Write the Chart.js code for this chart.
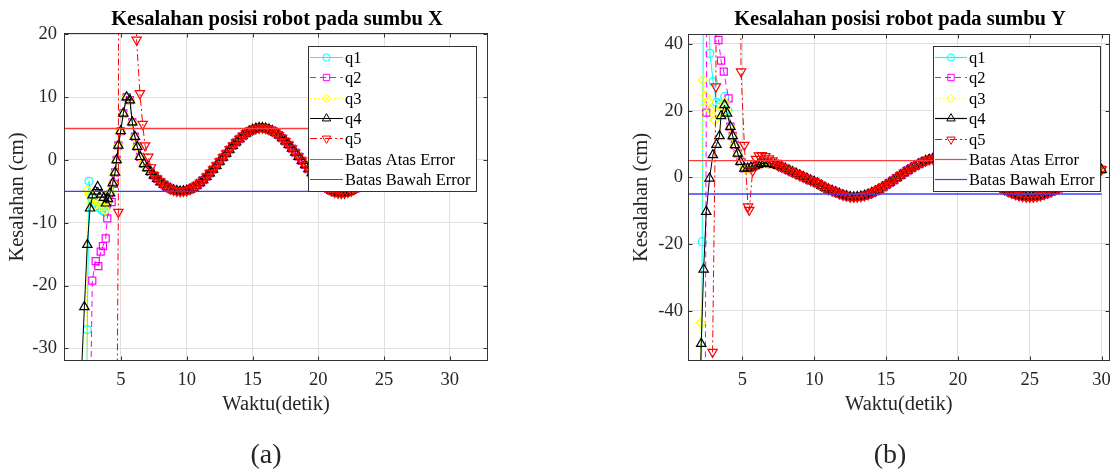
<!DOCTYPE html>
<html><head><meta charset="utf-8">
<script src="https://cdn.jsdelivr.net/npm/chart.js@4.4.0/dist/chart.umd.min.js"></script>
<style>
html,body{margin:0;padding:0;background:#fff;}
#wrap{position:relative;width:1119px;height:473px;overflow:hidden;background:#fff;}
canvas{position:absolute;top:0;}
</style></head><body>
<div id="wrap">
<canvas id="cA" width="560" height="473" style="left:0"></canvas>
<canvas id="cB" width="559" height="473" style="left:560px"></canvas>
</div>
<script>
// ---------- labels ----------
const seriesNames = ['q1','q2','q3','q4','q5'];
const limitNames = ['Batas Atas Error','Batas Bawah Error'];
const limitValues = [5, -5];
const limitT = [0, 30];
const titleA = 'Kesalahan posisi robot pada sumbu X';
const titleB = 'Kesalahan posisi robot pada sumbu Y';
const xLabel = 'Waktu(detik)';
const yLabel = 'Kesalahan (cm)';

// ---------- chart (a) : sumbu X ----------
const xTicksA = [5,10,15,20,25,30];
const yTicksA = [-30,-20,-10,0,10,20];
const q1tA = [2.3,2.44,2.57,2.75,2.95,3.15,3.35,3.55,3.75,3.95,4.15];
const q1vA = [-60,-27.0,-3.4,-6.0,-6.8,-7.3,-7.6,-8.0,-8.3,-7.0,-5.5];
const q2tA = [2.55,2.82,3.08,3.28,3.46,3.63,3.84,3.96,4.29,4.47];
const q2vA = [-60,-19.2,-16.1,-16.9,-14.6,-13.7,-12.5,-9.3,-6.7,-3.8];
const q3tA = [2.25,2.44,2.62,2.8,3.0,3.2,3.4,3.6,3.8,4.0,4.2];
const q3vA = [-60,-4.8,-5.5,-6.8,-7.2,-6.4,-6.9,-7.5,-8.0,-6.5,-5.0];
const q4tA = [1.76,2.22,2.44,2.65,2.85,3.05,3.23,3.5,3.7,3.86,4.02,4.17,4.37,4.55,4.67,4.8,4.98,5.18,5.43,5.68,5.86,6.06,6.24,6.45];
const q4vA = [-45,-23.4,-13.5,-7.7,-5.6,-5.0,-4.3,-5.5,-6.0,-6.9,-6.2,-5.3,-3.7,-2.0,0.0,2.3,4.6,7.4,10.0,9.5,6.0,3.7,2.1,0.5];
const q5tA = [4.55,4.8,4.98,6.1,6.19,6.44,6.65,6.83,7.08,7.28];
const q5vA = [-90,-8.3,300,150,19.1,10.6,5.7,2.3,0.5,-1.2];
const tailtA = [6.75,7,7.25,7.5,7.75,8,8.25,8.5,8.75,9,9.25,9.5,9.75,10,10.25,10.5,10.75,11,11.25,11.5,11.75,12,12.25,12.5,12.75,13,13.25,13.5,13.75,14,14.25,14.5,14.75,15,15.25,15.5,15.75,16,16.25,16.5,16.75,17,17.25,17.5,17.75,18,18.25,18.5,18.75,19,19.25,19.5,19.75,20,20.25,20.5,20.75,21,21.25,21.5,21.75,22,22.25,22.5,22.75,23,23.25,23.5,23.75,24,24.25,24.5,24.75,25,25.25,25.5,25.75,26,26.25,26.5,26.75,27,27.25,27.5,27.75,28,28.25,28.5,28.75,29,29.25,29.5,29.75,30];
const tailvA = [-0.64,-1.27,-1.88,-2.46,-3.00,-3.49,-3.92,-4.29,-4.58,-4.80,
 -4.94,-5.00,-4.97,-4.87,-4.68,-4.41,-4.08,-3.67,-3.20,-2.68,
 -2.12,-1.52,-0.90,-0.26,0.39,1.02,1.65,2.25,2.81,3.33,
 3.80,4.21,4.55,4.81,4.99,5.09,5.10,5.02,4.87,4.63,
 4.32,3.93,3.48,2.97,2.41,1.81,1.18,0.53,-0.13,-0.80,
 -1.45,-2.09,-2.69,-3.25,-3.76,-4.21,-4.59,-4.89,-5.11,-5.25,
 -5.30,-5.26,-5.13,-4.91,-4.61,-4.24,-3.79,-3.29,-2.73,-2.12,
 -1.48,-0.82,-0.14,0.54,1.21,1.87,2.48,3.05,3.58,4.05,
 4.45,4.78,5.03,5.19,5.27,5.26,5.17,4.99,4.72,4.38,
 3.97,3.49,2.95,2.36];

// ---------- chart (b) : sumbu Y ----------
const xTicksB = [5,10,15,20,25,30];
const yTicksB = [-40,-20,0,20,40];
const q1tB = [2.12,2.21,2.4,2.74,2.97,3.2,3.45,3.78,4.0];
const q1vB = [-90,-19.3,150,37.2,28.7,22.5,22.0,24.2,20.0];
const q2tB = [2.4,2.49,2.65,3.2,3.34,3.52,3.71,4.04];
const q2vB = [-90,19.4,150,150,41.2,35,31.7,23.7];
const q3tB = [2.0,2.12,2.26,2.45,2.65,2.79,3.07,3.3,3.55,3.76,3.94];
const q3vB = [-90,-43.7,29.2,24.5,22.7,20.2,17.2,19.5,21.0,22.5,19.5];
const q4tB = [1.85,2.14,2.31,2.49,2.72,2.95,3.2,3.41,3.52,3.76,3.94,4.17,4.33,4.49,4.68,4.87,5.14,5.37,5.6,5.85,6.1,6.3];
const q4vB = [-95,-49.9,-27.6,-10.3,-0.3,6.7,9.8,12.4,18.4,21.7,19.2,15.2,12.4,9.7,7.2,4.7,2.7,2.7,3.0,3.4,3.8,4.1];
const q5tB = [2.7,2.93,3.16,3.3,4.75,4.91,5.14,5.4,5.48,5.72,5.95,6.15,6.35,6.6,6.85,7.1,7.35];
const q5vB = [-120,-52.4,27.2,200,200,31.7,9.7,-8.8,-9.8,2.0,5.5,6.5,6.6,6.3,5.6,5.0,4.3];
const tailtB = [6.5,6.75,7,7.25,7.5,7.75,8,8.25,8.5,8.75,9,9.25,9.5,9.75,10,10.25,10.5,10.75,11,11.25,11.5,11.75,12,12.25,12.5,12.75,13,13.25,13.5,13.75,14,14.25,14.5,14.75,15,15.25,15.5,15.75,16,16.25,16.5,16.75,17,17.25,17.5,17.75,18,18.25,18.5,18.75,19,19.25,19.5,19.75,20,20.25,20.5,20.75,21,21.25,21.5,21.75,22,22.25,22.5,22.75,23,23.25,23.5,23.75,24,24.25,24.5,24.75,25,25.25,25.5,25.75,26,26.25,26.5,26.75,27,27.25,27.5,27.75,28,28.25,28.5,28.75,29,29.25,29.5,29.75,30];
const tailvB = [4.2,4.15,4.0,3.8,3.5,3.1,2.6,2.1,1.6,1.1,
 0.6,0.1,-0.4,-0.9,-1.3,-1.8,-2.5,-3.1,-3.6,-4.0,
 -4.4,-4.9,-5.3,-5.6,-5.85,-5.95,-5.85,-5.7,-5.45,-5.15,
 -4.67,-4.17,-3.61,-2.99,-2.32,-1.63,-0.89,-0.15,0.6,1.34,
 2.05,2.73,3.37,3.96,4.48,4.93,5.30,5.58,5.78,5.88,
 5.89,5.8,5.6,5.3,4.95,4.5,3.95,3.35,2.7,2.0,
 1.3,0.55,-0.2,-0.95,-1.7,-2.4,-3.05,-3.65,-4.2,-4.7,
 -5.1,-5.45,-5.7,-5.85,-5.9,-5.85,-5.7,-5.45,-5.1,-4.7,
 -4.25,-3.8,-3.3,-2.8,-2.25,-1.7,-1.15,-0.6,-0.05,0.45,
 0.95,1.4,1.8,2.1,2.3];

// ---------- helpers ----------
const FONT = '"Liberation Serif", "Times New Roman", serif';
function pts(t, v) { return t.map((x, i) => ({x: x, y: v[i]})); }
function chain() {
  let out = [];
  for (const p of arguments) {
    const last = out.length ? out[out.length - 1].x : -Infinity;
    out = out.concat(p.filter(d => d.x > last));
  }
  return out;
}
const styles = [
  {color:'#00ffff', dash:[], pointStyle:'circle', radius:4, rotation:0},
  {color:'#ff00ff', dash:[6,4], pointStyle:'rect', radius:5, rotation:0},
  {color:'#ffff00', dash:[1.5,2.5], pointStyle:'rectRot', radius:4.6, rotation:0},
  {color:'#000000', dash:[], pointStyle:'triangle', radius:5.4, rotation:0},
  {color:'#ff0000', dash:[7,3,2,3], pointStyle:'triangle', radius:5.4, rotation:180}
];
const limitStyles = [{color:'#ff3c3c'}, {color:'#3c3cff'}];

function mkSeries(i, data) {
  const st = styles[i];
  return {label: seriesNames[i], data: data, borderColor: st.color, backgroundColor:'rgba(0,0,0,0)',
    borderWidth: 1, borderDash: st.dash, pointStyle: st.pointStyle, pointRadius: st.radius,
    pointRotation: st.rotation, pointBorderColor: st.color, pointBackgroundColor:'rgba(0,0,0,0)',
    pointBorderWidth: 1.2, tension: 0, fill: false, order: 6 - i, clip: 0,
    legendStyle: st};
}
function mkLimit(j) {
  return {label: limitNames[j], data: limitT.map(t => ({x: t, y: limitValues[j]})),
    borderColor: limitStyles[j].color, borderWidth: 1.3, pointRadius: 0, tension: 0, fill: false,
    order: j, clip: 0, legendStyle: {color: limitStyles[j].color, dash: [], pointStyle: false}};
}

const framePlugin = {
  id: 'frame',
  afterDatasetsDraw(chart) {
    const {ctx, chartArea: a, scales} = chart;
    ctx.save();
    ctx.setLineDash([]);
    ctx.strokeStyle = '#333';
    ctx.lineWidth = 1;
    const L = Math.round(a.left) + 0.5, R = Math.round(a.right) - 0.5;
    const T = Math.round(a.top) + 0.5, B = Math.round(a.bottom) - 0.5;
    ctx.strokeRect(L, T, R - L, B - T);
    ctx.beginPath();
    scales.x.ticks.forEach(t => {
      const p = Math.round(scales.x.getPixelForValue(t.value)) + 0.5;
      ctx.moveTo(p, B); ctx.lineTo(p, B - 4);
      ctx.moveTo(p, T); ctx.lineTo(p, T + 4);
    });
    scales.y.ticks.forEach(t => {
      const p = Math.round(scales.y.getPixelForValue(t.value)) + 0.5;
      ctx.moveTo(L, p); ctx.lineTo(L + 4, p);
      ctx.moveTo(R, p); ctx.lineTo(R - 4, p);
    });
    ctx.stroke();
    ctx.restore();
  }
};

const boxLegendPlugin = {
  id: 'boxLegend',
  afterDraw(chart, args, o) {
    const ctx = chart.ctx;
    ctx.save();
    ctx.setLineDash([]);
    ctx.fillStyle = '#fff';
    ctx.fillRect(o.x, o.y, o.w, o.h);
    ctx.strokeStyle = '#333';
    ctx.lineWidth = 1;
    ctx.strokeRect(o.x + 0.5, o.y + 0.5, o.w, o.h);
    const items = chart.data.datasets.map(d => ({label: d.label, st: d.legendStyle}));
    ctx.font = '16.5px ' + FONT;
    ctx.textBaseline = 'middle';
    ctx.textAlign = 'left';
    items.forEach((it, i) => {
      const y = Math.round(o.y + o.rowTop + i * o.rowH) + 0.5;
      const x0 = o.x + 2, x1 = o.x + o.sampleW;
      ctx.strokeStyle = it.st.color;
      ctx.lineWidth = 1.2;
      ctx.setLineDash(it.st.dash || []);
      ctx.beginPath(); ctx.moveTo(x0, y); ctx.lineTo(x1, y); ctx.stroke();
      ctx.setLineDash([]);
      if (it.st.pointStyle) {
        ctx.fillStyle = 'rgba(0,0,0,0)';
        ctx.lineWidth = 1;
        Chart.helpers.drawPoint(ctx, {pointStyle: it.st.pointStyle, rotation: it.st.rotation,
          radius: it.st.radius * 0.9, borderWidth: 1}, (x0 + x1) / 2, y);
      }
      ctx.fillStyle = '#000';
      ctx.fillText(it.label, o.x + o.textX, y + 1);
    });
    ctx.restore();
  }
};

const textPlugin = {
  id: 'texts',
  afterDraw(chart, args, o) {
    const ctx = chart.ctx;
    ctx.save();
    ctx.fillStyle = '#000';
    ctx.textAlign = 'center';
    ctx.textBaseline = 'alphabetic';
    ctx.font = 'bold 20.5px ' + FONT;
    ctx.fillText(o.title, o.titleX, o.titleY);
    ctx.fillStyle = '#262626';
    ctx.font = '28px ' + FONT;
    ctx.fillText(o.sub, o.subX, o.subY);
    ctx.restore();
  }
};

function makeChart(id, cfg) {
  const datasets = cfg.series.map((d, i) => mkSeries(i, d)).concat([mkLimit(0), mkLimit(1)]);
  return new Chart(document.getElementById(id), {
    type: 'line',
    data: {datasets: datasets},
    plugins: [framePlugin, boxLegendPlugin, textPlugin],
    options: {
      responsive: false, animation: false, devicePixelRatio: 1,
      layout: {padding: cfg.pad},
      plugins: {
        legend: {display: false}, tooltip: {enabled: false}, title: {display: false},
        boxLegend: cfg.legend,
        texts: cfg.texts
      },
      scales: {
        x: {
          type: 'linear', min: cfg.xMin, max: cfg.xMax,
          afterBuildTicks: s => { s.ticks = cfg.xTicks.map(v => ({value: v})); },
          afterFit: s => { s.height = cfg.xH; },
          grid: {color: '#dfdfdf', drawTicks: false, lineWidth: 1},
          border: {display: false},
          ticks: {color: '#262626', font: {family: FONT, size: 18.5}, padding: cfg.xTickPad, maxRotation: 0, autoSkip: false},
          title: {display: true, text: xLabel, color: '#262626', font: {family: FONT, size: 20.5}, padding: {top: 0, bottom: cfg.xTitlePad}}
        },
        y: {
          type: 'linear', min: cfg.yMin, max: cfg.yMax,
          afterBuildTicks: s => { s.ticks = cfg.yTicks.map(v => ({value: v})); },
          afterFit: s => { s.width = cfg.yW; },
          grid: {color: '#dfdfdf', drawTicks: false, lineWidth: 1},
          border: {display: false},
          ticks: {color: '#262626', font: {family: FONT, size: 18.5}, padding: cfg.yTickPad, autoSkip: false},
          title: {display: true, text: yLabel, color: '#262626', font: {family: FONT, size: 20.5}, padding: {top: cfg.yTitlePad, bottom: 0}}
        }
      }
    }
  });
}

const tailA = pts(tailtA, tailvA);
const q4A = pts(q4tA, q4vA);
makeChart('cA', {
  series: [
    chain(pts(q1tA, q1vA), q4A, tailA),
    chain(pts(q2tA, q2vA), q4A, tailA),
    chain(pts(q3tA, q3vA), q4A, tailA),
    chain(q4A, tailA),
    chain(pts(q5tA, q5vA), tailA)
  ],
  pad: {left: 0, top: 33, right: 72, bottom: 0},
  xMin: 0.67, xMax: 32.9, yMin: -32, yMax: 20.2,
  xTicks: xTicksA, yTicks: yTicksA,
  xH: 112, yW: 64, xTickPad: 8, yTickPad: 7, xTitlePad: 56, yTitlePad: 5,
  legend: {x: 308, y: 46, w: 168, h: 145, rowTop: 10.7, rowH: 20.4, sampleW: 35, textX: 37},
  texts: {title: titleA, titleX: 277, titleY: 25, sub: '(a)', subX: 266, subY: 463}
});

const tailB = pts(tailtB, tailvB);
const q4B = pts(q4tB, q4vB);
makeChart('cB', {
  series: [
    chain(pts(q1tB, q1vB), q4B, tailB),
    chain(pts(q2tB, q2vB), q4B, tailB),
    chain(pts(q3tB, q3vB), q4B, tailB),
    chain(q4B, tailB),
    chain(pts(q5tB, q5vB), tailB)
  ],
  pad: {left: 0, top: 34, right: 7, bottom: 0},
  xMin: 1.22, xMax: 30.55, yMin: -55.1, yMax: 43.0,
  xTicks: xTicksB, yTicks: yTicksB,
  xH: 112, yW: 128, xTickPad: 8, yTickPad: 5, xTitlePad: 56, yTitlePad: 69.5,
  legend: {x: 373, y: 46, w: 167, h: 145, rowTop: 11, rowH: 20.4, sampleW: 34, textX: 36},
  texts: {title: titleB, titleX: 340, titleY: 25, sub: '(b)', subX: 330, subY: 463}
});
</script>
</body></html>
